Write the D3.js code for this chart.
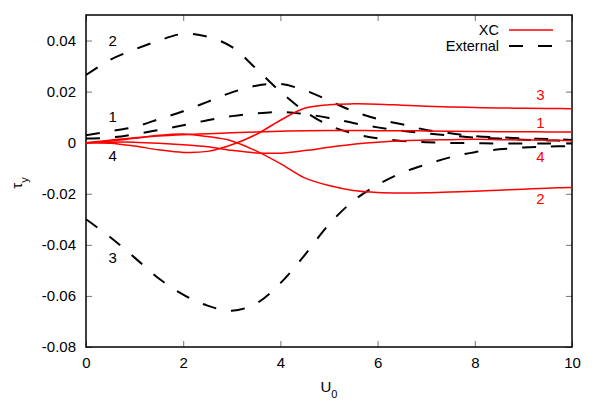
<!DOCTYPE html>
<html>
<head>
<meta charset="utf-8">
<script src="https://cdn.jsdelivr.net/npm/d3@7"></script>
<style>
  body { margin: 0; background: #fff; }
  text { font-family: "Liberation Sans", Arial, sans-serif; }
</style>
</head>
<body>
<svg id="chart" width="600" height="413"></svg>
<script>
// Values, U0 on a 0.5 grid.
var u0 = [0, 0.5, 1, 1.5, 2, 2.5, 3, 3.5, 4, 4.5, 5, 5.5, 6, 6.5, 7, 7.5, 8, 8.5, 9, 9.5, 10];

var xc1 = [0, 0.0010, 0.0019, 0.0026, 0.0031, 0.0035, 0.0039, 0.0042, 0.0045, 0.0047, 0.0048, 0.0048, 0.0047, 0.0047, 0.0046, 0.0045, 0.0044, 0.0043, 0.0043, 0.0042, 0.0042];
var xc2 = [0, 0.0006, 0.0017, 0.0029, 0.0034, 0.0024, 0.0007, -0.0032, -0.0082, -0.0138, -0.0168, -0.0187, -0.0195, -0.0197, -0.0196, -0.0193, -0.0190, -0.0186, -0.0182, -0.0178, -0.0175];
var xc3 = [0, -0.0002, -0.0013, -0.0028, -0.0038, -0.0034, -0.0008, 0.0032, 0.0088, 0.0135, 0.0149, 0.0152, 0.0151, 0.0147, 0.0143, 0.0140, 0.0138, 0.0136, 0.0135, 0.0134, 0.0133];
var xc4 = [0, 0.0002, 0.0002, -0.0002, -0.0008, -0.0016, -0.0030, -0.0040, -0.0041, -0.0031, -0.0018, -0.0006, 0.0002, 0.0008, 0.0011, 0.0012, 0.0013, 0.0012, 0.0011, 0.0010, 0.0008];

var ext1 = [0.0029, 0.0045, 0.0062, 0.0092, 0.0123, 0.0160, 0.0197, 0.0223, 0.0230, 0.0205, 0.0165, 0.0123, 0.0093, 0.0072, 0.0050, 0.0037, 0.0026, 0.0021, 0.0017, 0.0014, 0.0011];
var ext2 = [0.0265, 0.0325, 0.0365, 0.0400, 0.0426, 0.0415, 0.0375, 0.0290, 0.0200, 0.0123, 0.0068, 0.0036, 0.0017, 0.0007, 0.0002, -0.0001, -0.0002, -0.0003, -0.0003, -0.0003, -0.0003];
var ext3 = [-0.0300, -0.0370, -0.0450, -0.0532, -0.0595, -0.0638, -0.0658, -0.0630, -0.0550, -0.0440, -0.0320, -0.0228, -0.0165, -0.0118, -0.0085, -0.0057, -0.0037, -0.0026, -0.0019, -0.0015, -0.0013];
var ext4 = [0.0016, 0.0020, 0.0033, 0.0050, 0.0068, 0.0088, 0.0104, 0.0115, 0.0120, 0.0112, 0.0097, 0.0077, 0.0060, 0.0047, 0.0037, 0.0028, 0.0020, 0.0016, 0.0012, 0.0009, 0.0007];

var xTicks = [0, 2, 4, 6, 8, 10];
var yTicks = [-0.08, -0.06, -0.04, -0.02, 0, 0.02, 0.04];

// Curve number labels next to the lines.
var extLabels = [{n: "2", u: 0.55, v: 0.0398}, {n: "1", u: 0.55, v: 0.0100}, {n: "4", u: 0.55, v: -0.0053}, {n: "3", u: 0.55, v: -0.0452}];
var xcLabels = [{n: "3", u: 9.35, v: 0.0189}, {n: "1", u: 9.35, v: 0.0078}, {n: "4", u: 9.35, v: -0.0056}, {n: "2", u: 9.35, v: -0.0218}];

var svg = d3.select("#chart");
var box = {left: 86, right: 572, top: 15, bottom: 347};

var x = d3.scaleLinear().domain([0, 10]).range([box.left, box.right]);
var y = d3.scaleLinear().domain([-0.08, 0.05]).range([box.bottom, box.top]);

var fmt = function(d){ return d === 0 ? "0" : d.toFixed(2); };

// Axes: ticks point inward, like gnuplot.
function styleAxis(g){
  g.select(".domain").remove();
  g.selectAll(".tick line").attr("stroke", "#777").attr("stroke-width", 1);
  g.selectAll(".tick text").attr("fill", "#000").style("font-size", "15px")
    .style("font-family", "'Liberation Sans', Arial, sans-serif");
}
svg.append("g").attr("transform", "translate(" + box.left + ",0)")
  .call(d3.axisLeft(y).tickValues(yTicks).tickFormat(fmt).tickSize(-6).tickPadding(10))
  .call(styleAxis);
svg.append("g").attr("transform", "translate(" + box.right + ",0)")
  .call(d3.axisRight(y).tickValues(yTicks).tickFormat("").tickSize(-6))
  .call(styleAxis);
svg.append("g").attr("transform", "translate(0," + box.bottom + ")")
  .call(d3.axisBottom(x).tickValues(xTicks).tickFormat(d3.format("d")).tickSize(-6).tickPadding(10))
  .call(styleAxis);
svg.append("g").attr("transform", "translate(0," + box.top + ")")
  .call(d3.axisTop(x).tickValues(xTicks).tickFormat("").tickSize(-6))
  .call(styleAxis);

svg.append("rect")
  .attr("x", box.left).attr("y", box.top)
  .attr("width", box.right - box.left).attr("height", box.bottom - box.top)
  .attr("fill", "none").attr("stroke", "#000").attr("stroke-width", 1.5);

// Curves.
var line = d3.line().curve(d3.curveCatmullRom.alpha(0.5))
  .x(function(d){ return x(d[0]); })
  .y(function(d){ return y(d[1]); });

function pts(vals){ return u0.map(function(u, i){ return [u, vals[i]]; }); }

var plot = svg.append("g");
[ext1, ext2, ext3, ext4].forEach(function(s){
  plot.append("path").attr("d", line(pts(s)))
    .attr("fill", "none").attr("stroke", "#000").attr("stroke-width", 2)
    .attr("stroke-dasharray", "14,15");
});
[xc1, xc2, xc3, xc4].forEach(function(s){
  plot.append("path").attr("d", line(pts(s)))
    .attr("fill", "none").attr("stroke", "#ff0000").attr("stroke-width", 1.5);
});

extLabels.forEach(function(l){
  svg.append("text").attr("x", x(l.u)).attr("y", y(l.v))
    .attr("text-anchor", "middle").attr("dy", "0.35em")
    .style("font-size", "15px").attr("fill", "#000").text(l.n);
});
xcLabels.forEach(function(l){
  svg.append("text").attr("x", x(l.u)).attr("y", y(l.v))
    .attr("text-anchor", "middle").attr("dy", "0.35em")
    .style("font-size", "15px").attr("fill", "#ff0000").text(l.n);
});

// Legend.
var legend = [{name: "XC", color: "#ff0000", dash: null, w: 1.5}, {name: "External", color: "#000", dash: "14,15", w: 2}];
legend.forEach(function(d, i){
  var ly = 30 + i * 16;
  svg.append("text").attr("x", 499).attr("y", ly).attr("dy", "0.35em")
    .attr("text-anchor", "end").style("font-size", "14.5px").text(d.name);
  svg.append("line").attr("x1", 509).attr("x2", 553).attr("y1", ly).attr("y2", ly)
    .attr("stroke", d.color).attr("stroke-width", d.w)
    .attr("stroke-dasharray", d.dash);
});

// Axis titles.
var xt = svg.append("text").attr("x", (box.left + box.right) / 2).attr("y", 392)
  .attr("text-anchor", "middle").style("font-size", "15px");
xt.append("tspan").text("U");
xt.append("tspan").attr("baseline-shift", "sub").style("font-size", "11px").text("0");

var yt = svg.append("text").attr("transform", "translate(22,183) rotate(-90)")
  .attr("text-anchor", "middle").style("font-size", "15px");
yt.append("tspan").text("τ");
yt.append("tspan").attr("baseline-shift", "sub").style("font-size", "11px").text("y");
</script>
</body>
</html>
